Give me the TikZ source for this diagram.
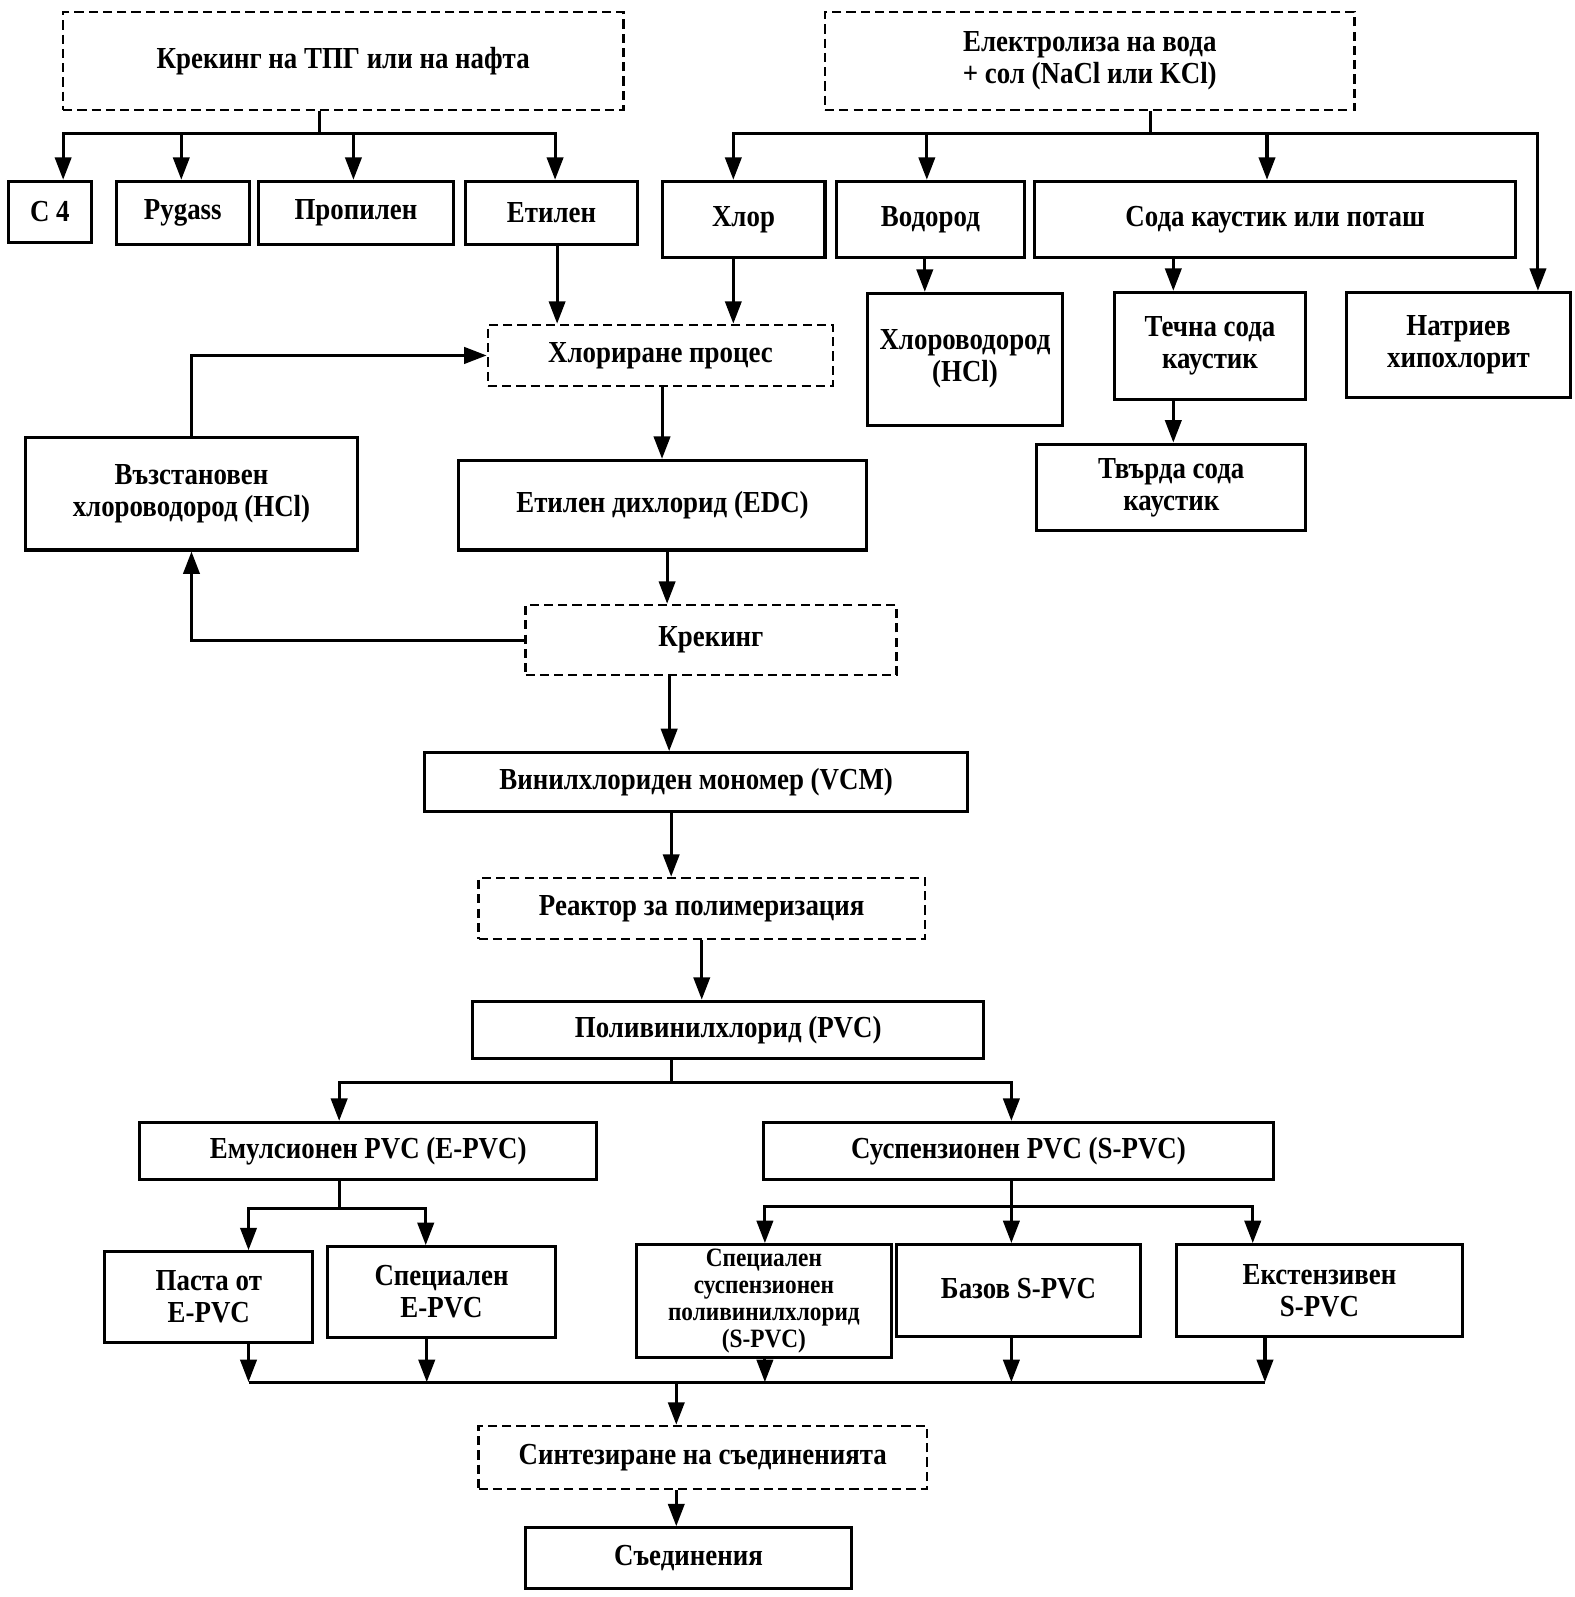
\documentclass[tikz,border=0pt]{standalone}
\usepackage{fontspec}
\setmainfont[FakeStretch=0.88]{Liberation Serif}
\usetikzlibrary{arrows.meta}
\begin{document}
\begin{tikzpicture}[x=1pt,y=-1pt,
  every node/.style={font=\fontsize{30}{31.5}\selectfont\bfseries, align=center, inner sep=0pt},
  box/.style={draw, line width=3pt, rectangle},
  dbox/.style={draw, line width=2.4pt, dash pattern=on 9pt off 5pt},
  ln/.style={line width=3pt},
  arr/.style={line width=3pt, -{Triangle[width=16pt,length=22pt]}},
  small/.style={font=\fontsize{26}{26.5}\selectfont\bfseries}
]
\useasboundingbox (0,0) rectangle (1546,1568);
% top sources
\node[dbox, minimum width=550pt, minimum height=96pt] (tpg) at (337,60) {Крекинг на ТПГ или на нафта};
\node[dbox, minimum width=520pt, minimum height=96pt] (elec) at (1070,60) {Електролиза на вода\\+ сол (NaCl или KCl)};
% left products
\node[box, minimum width=82pt, minimum height=60pt] (c4) at (49,208) {C 4};
\node[box, minimum width=131pt, minimum height=62pt] (pyg) at (179.5,209) {Pygass};
\node[box, minimum width=191pt, minimum height=62pt] (prop) at (349.5,209) {Пропилен};
\node[box, minimum width=169pt, minimum height=62pt] (etil) at (541.5,209) {Етилен};
% right products
\node[box, minimum width=160pt, minimum height=75pt] (hlor) at (730,215.5) {Хлор};
\node[box, minimum width=185pt, minimum height=75pt] (vod) at (913.5,215.5) {Водород};
\node[box, minimum width=472pt, minimum height=75pt] (soda) at (1252,215.5) {Сода каустик или поташ};
\node[box, minimum width=191pt, minimum height=130pt] (hcl) at (947.5,353) {\raisebox{11pt}{\begin{tabular}{@{}c@{}}Хлороводород\\(HCl)\end{tabular}}};
\node[box, minimum width=188pt, minimum height=105pt] (techna) at (1188,339.5) {Течна сода\\каустик};
\node[box, minimum width=220pt, minimum height=103pt] (natr) at (1432,338.5) {Натриев\\хипохлорит};
\node[box, minimum width=264pt, minimum height=85pt] (tvyrda) at (1150,478.5) {Твърда сода\\каустик};
% main chain
\node[dbox, minimum width=339pt, minimum height=60pt] (chlorproc) at (648.5,349) {Хлориране процес};
\node[box, minimum width=326pt, minimum height=110pt] (vyzst) at (188,485) {\raisebox{10pt}{\begin{tabular}{@{}c@{}}Възстановен\\хлороводород (HCl)\end{tabular}}};
\node[box, minimum width=401pt, minimum height=88pt] (edc) at (650.5,496) {Етилен дихлорид (EDC)};
\node[dbox, minimum width=364pt, minimum height=69pt] (krek) at (698,628.5) {Крекинг};
\node[box, minimum width=533pt, minimum height=58pt] (vcm) at (683.5,768) {Винилхлориден мономер (VCM)};
\node[dbox, minimum width=438pt, minimum height=60pt] (reakt) at (689,892) {Реактор за полимеризация};
\node[box, minimum width=502pt, minimum height=56pt] (pvc) at (715,1011) {Поливинилхлорид (PVC)};
\node[box, minimum width=449pt, minimum height=56pt] (epvc) at (361.5,1130) {Емулсионен PVC (E-PVC)};
\node[box, minimum width=500pt, minimum height=56pt] (spvc) at (1000,1130) {Суспензионен PVC (S-PVC)};
\node[box, minimum width=204pt, minimum height=89pt] (pasta) at (205,1273.5) {Паста от\\E-PVC};
\node[box, minimum width=223pt, minimum height=89pt] (specE) at (433.5,1268.5) {Специален\\E-PVC};
\node[box, small, minimum width=250pt, minimum height=111pt] (specS) at (750,1277.5) {Специален\\суспензионен\\поливинилхлорид\\(S-PVC)};
\node[box, minimum width=240pt, minimum height=90pt] (bazov) at (1000,1267) {\raisebox{4pt}{Базов S-PVC}};
\node[box, minimum width=281pt, minimum height=90pt] (ekst) at (1295.5,1267) {Екстензивен\\S-PVC};
\node[dbox, minimum width=440pt, minimum height=62pt] (sint) at (690,1431) {Синтезиране на съединенията};
\node[box, minimum width=320pt, minimum height=60pt] (sed) at (676,1530) {Съединения};
% junctions
\coordinate (j1) at (314,131);
\coordinate (j2) at (1130,131);
\coordinate (j3) at (659,1063);
\coordinate (j4) at (333,1187);
\coordinate (j5) at (993,1185);
\coordinate (busL) at (244,1357);
\coordinate (busR) at (1242,1357);
\coordinate (bmid) at (664,1357);
% left tree
\draw[ln] (tpg.south -| j1) -- (j1);
\draw[arr] (j1) -| ([xshift=13pt]c4.north);
\draw[arr] (j1) -| ([xshift=-1.5pt]pyg.north);
\draw[arr] (j1) -| ([xshift=-2.5pt]prop.north);
\draw[arr] (j1) -| ([xshift=3.5pt]etil.north);
% right tree
\draw[ln] (elec.south -| j2) -- (j2);
\draw[arr] (j2) -| ([xshift=-10pt]hlor.north);
\draw[arr] (j2) -| ([xshift=-3.5pt]vod.north);
\draw[arr] (j2) -| ([xshift=-8pt]soda.north);
\draw[arr] (j2) -| ([xshift=78pt]natr.north);
\draw[arr] ([xshift=-5.5pt]vod.south) -- ([xshift=-5.5pt]vod.south |- hcl.north);
\draw[arr] ([xshift=-100pt]soda.south) -- ([xshift=-100pt]soda.south |- techna.north);
\draw[arr] ([xshift=-36pt]techna.south) -- ([xshift=-36pt]techna.south |- tvyrda.north);
% chlorination
\draw[arr] ([xshift=5.5pt]etil.south) -- ([xshift=5.5pt]etil.south |- chlorproc.north);
\draw[arr] ([xshift=-10pt]hlor.south) -- ([xshift=-10pt]hlor.south |- chlorproc.north);
\draw[arr] (vyzst.north) |- (chlorproc.west);
\draw[arr] ([xshift=1.5pt]chlorproc.south) -- ([xshift=1.5pt]chlorproc.south |- edc.north);
\draw[arr] ([xshift=4.5pt]edc.south) -- ([xshift=4.5pt]edc.south |- krek.north);
\draw[arr] (krek.west) -| (vyzst.south);
\draw[arr] ([xshift=-41pt]krek.south) -- ([xshift=-41pt]krek.south |- vcm.north);
\draw[arr] ([xshift=-24.5pt]vcm.south) -- ([xshift=-24.5pt]vcm.south |- reakt.north);
\draw[arr] (reakt.south) -- (reakt.south |- pvc.north);
% PVC split
\draw[ln] (pvc.south -| j3) -- (j3);
\draw[arr] (j3) -| ([xshift=-28.5pt]epvc.north);
\draw[arr] (j3) -| ([xshift=-7pt]spvc.north);
\draw[ln] (epvc.south -| j4) -- (j4);
\draw[arr] (j4) -| ([xshift=39pt]pasta.north);
\draw[arr] (j4) -| ([xshift=-15.5pt]specE.north);
\draw[ln] (spvc.south -| j5) -- (j5);
\draw[arr] (j5) -| ([xshift=1pt]specS.north);
\draw[arr] (j5) -| ([xshift=-7pt]bazov.north);
\draw[arr] (j5) -| ([xshift=-65.5pt]ekst.north);
% collection bus
\draw[ln] (busL) -- (busR);
\draw[arr] ([xshift=39pt]pasta.south) -- ([xshift=39pt]pasta.south |- busL);
\draw[arr] ([xshift=-14.5pt]specE.south) -- ([xshift=-14.5pt]specE.south |- busL);
\draw[arr] ([xshift=1pt]specS.south) -- ([xshift=1pt]specS.south |- busL);
\draw[arr] ([xshift=-7pt]bazov.south) -- ([xshift=-7pt]bazov.south |- busL);
\draw[arr] ([xshift=-53.5pt]ekst.south) -- ([xshift=-53.5pt]ekst.south |- busL);
\draw[arr] (bmid) -- (bmid |- sint.north);
\draw[arr] ([xshift=-26pt]sint.south) -- ([xshift=-26pt]sint.south |- sed.north);
\end{tikzpicture}
\end{document}
